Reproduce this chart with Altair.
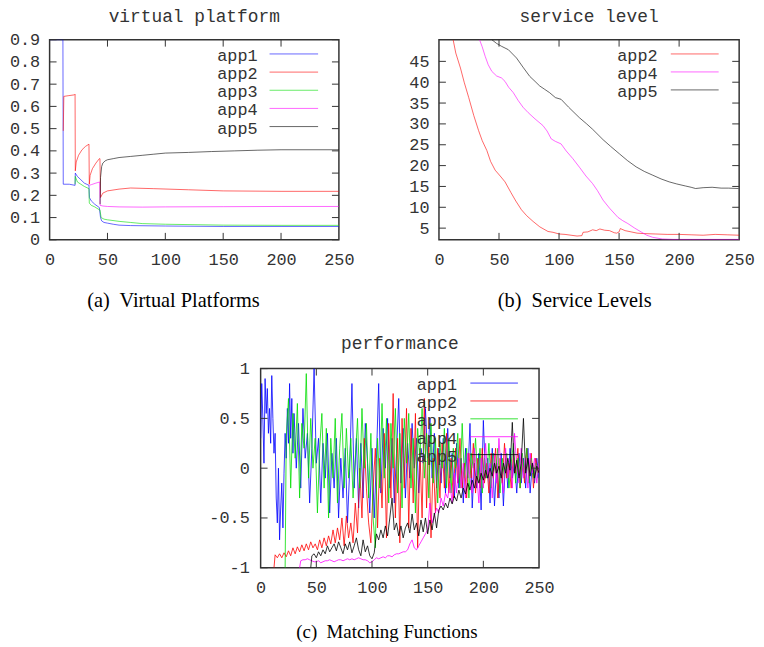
import altair as alt
import pandas as pd

MONO = "Liberation Mono"
SERIF = "Liberation Serif"
TXT = "#333333"

NAMES = ["app1", "app2", "app3", "app4", "app5"]
COLORS = ["#0000ff", "#ff0000", "#00dd00", "#ff00ff", "#000000"]

X_TICKS = [0, 50, 100, 150, 200, 250]
A_YTICKS = [0, 0.1, 0.2, 0.3, 0.4, 0.5, 0.6, 0.7, 0.8, 0.9]
B_YTICKS = [5, 10, 15, 20, 25, 30, 35, 40, 45]
C_YTICKS = [-1, -0.5, 0, 0.5, 1]

# ---------------- (a) virtual platform ----------------
A1_X = [0, 11.5, 11.8, 17, 22, 22.2, 24, 27, 30, 34, 34.4, 36, 39, 43, 44, 45, 47, 50, 55, 60, 70, 100, 150, 200, 250]
A1_Y = [0.9, 0.9, 0.25, 0.25, 0.245, 0.30, 0.285, 0.27, 0.255, 0.245, 0.19, 0.175, 0.16, 0.145, 0.10, 0.085, 0.078, 0.075, 0.07, 0.066, 0.064, 0.062, 0.06, 0.06, 0.06]
A2_X = [11.8, 12.3, 16, 21.5, 22, 22.2, 23, 25, 28, 31, 34, 34.3, 35, 37, 40, 43, 43.5, 44, 46, 50, 60, 70, 90, 120, 150, 200, 250]
A2_Y = [0.49, 0.645, 0.648, 0.652, 0.655, 0.31, 0.35, 0.38, 0.405, 0.42, 0.43, 0.25, 0.29, 0.32, 0.345, 0.365, 0.365, 0.19, 0.21, 0.22, 0.228, 0.233, 0.23, 0.225, 0.22, 0.218, 0.218]
A3_X = [22, 22.2, 24, 27, 30, 34, 34.3, 36, 39, 43, 43.5, 44.5, 47, 50, 60, 70, 80, 100, 150, 200, 250]
A3_Y = [0.25, 0.285, 0.26, 0.25, 0.24, 0.23, 0.165, 0.155, 0.148, 0.135, 0.135, 0.10, 0.093, 0.09, 0.083, 0.078, 0.073, 0.07, 0.066, 0.065, 0.065]
A4_X = [34.3, 36, 40, 43.3, 43.6, 46, 50, 60, 80, 100, 150, 200, 250]
A4_Y = [0.245, 0.248, 0.255, 0.26, 0.155, 0.152, 0.15, 0.148, 0.147, 0.148, 0.149, 0.15, 0.15]
A5_X = [43.6, 44, 45, 46, 48, 50, 55, 60, 70, 80, 90, 100, 120, 140, 160, 180, 200, 250]
A5_Y = [0.16, 0.28, 0.33, 0.345, 0.355, 0.36, 0.365, 0.37, 0.375, 0.38, 0.385, 0.39, 0.393, 0.397, 0.40, 0.403, 0.405, 0.405]

# ---------------- (b) service level ----------------
B2_X = [11.8, 14, 17.9, 21, 24.8, 29, 33, 36, 39.9, 43, 46.8, 51, 55, 60, 64, 68.7, 73, 78.4, 84, 90.8, 95, 100, 105, 110, 115, 119, 120, 124, 128, 131, 134, 138, 142, 146, 148, 150, 151, 155, 160, 165, 170, 180, 190, 200, 210, 220, 230, 240, 250]
B2_Y = [50.2, 47, 43.4, 40, 36.3, 32, 28.4, 26, 23.6, 21, 18.9, 17.5, 16.1, 13.5, 11.5, 9.4, 8.0, 6.6, 5.3, 4.2, 4.0, 3.6, 3.5, 3.3, 3.1, 3.2, 4.0, 4.1, 4.6, 4.4, 4.8, 4.5, 4.4, 3.9, 3.8, 4.1, 4.9, 4.4, 4.1, 3.8, 3.7, 3.6, 3.5, 3.5, 3.4, 3.3, 3.5, 3.4, 3.3]
B4_X = [33.8, 36, 38.5, 41, 44, 48, 52.2, 55, 58, 61.9, 66, 70, 74.3, 80, 86.6, 90, 93.5, 97, 101.7, 106, 111.4, 117, 122.4, 127.9, 132, 136.7, 142, 149, 153, 157.3, 163, 168.3, 173, 178, 186, 195, 210, 230, 250]
B4_Y = [50.2, 48.5, 46.2, 44.2, 42.6, 41.5, 41, 40.2, 38.8, 37.5, 35.6, 34, 32.7, 31.2, 29.6, 28.3, 26.4, 25.8, 25.2, 23.5, 21.7, 19.6, 17.5, 15.7, 14, 11.7, 9.8, 7.6, 6.8, 6.1, 5.0, 4.1, 3.3, 2.8, 2.4, 2.3, 2.3, 2.3, 2.3]
B5_X = [44, 48, 52.2, 57.8, 64.6, 70, 75.6, 80, 83.9, 88, 92.1, 97, 101.7, 108, 116.9, 123, 128, 136.7, 143, 150.4, 157, 164.2, 171, 178, 185, 191.7, 198, 205.4, 210, 213.7, 220, 227.5, 235, 241, 249.4]
B5_Y = [50.2, 49.3, 48.6, 47.8, 45.8, 43.6, 41.4, 40.2, 39.1, 38.3, 37.5, 36.3, 35.9, 34.0, 31.5, 30.0, 28.7, 26.2, 24.6, 22.8, 21.2, 19.7, 18.6, 17.7, 16.8, 16.1, 15.6, 15.1, 14.8, 14.5, 14.7, 14.8, 14.6, 14.6, 14.5]

# ---------------- (c) performance ----------------
C1_X = list(range(0, 30)) + list(range(30, 251, 2))
C1_Y = [0.3, 0.85, 0.5, 0.05, 0.9, 0.55, 0.8, 0.35, 0.6, 0.25,
        0.93, 0.5, 0.15, 0.35, -0.3, -0.55, 0.0, -0.72, -0.4, -0.15,
        -0.6, -0.05, 0.35, 0.1, 0.6, 0.25, 0.85, 0.3, 0.7, 0.15,
        0.55, 0.0, 0.45, -0.2, 0.6, 0.1, 0.35, -0.35, 0.2, 1.0,
        0.05, 0.3, -0.35, 0.25, -0.1, 0.35, -0.45, 0.15, -0.2, 0.3,
        -0.5, 0.1, -0.3, 0.2, -0.55, 0.0, 0.85, -0.2, 0.3, -0.4,
        0.25, -0.3, 0.45, 0.05, -0.45, 0.2, -0.5, 0.1, 0.85, -0.25,
        0.4, 0.0, 0.5, -0.2, 0.3, -0.35, 0.15, 0.7, -0.15, 0.4,
        -0.3, 0.25, -0.1, 0.45, 0.0, 0.3, -0.25, 0.2, 0.05, 0.6,
        0.1, 0.5, -0.1, 0.35, -0.2, 0.2, -0.15, 0.3, -0.25, 0.4,
        -0.1, 0.15, -0.3, 0.25, -0.2, 0.1, -0.35, 0.2, -0.1, 0.45,
        -0.4, 0.05, -0.2, 0.15, -0.42, 0.48, -0.1, 0.1, -0.35, 0.2,
        -0.38, 0.05, -0.3, 0.15, -0.38, 0.1, -0.2, 0.2, -0.1, 0.05,
        -0.25, 0.15, -0.15, 0.1, -0.2, 0.2, -0.25, 0.05, -0.15, 0.1,
        -0.1]
C2_X = [12] + list(range(13, 251, 2))
C2_Y = [-1.0,
        -0.87, -0.9, -0.86, -0.9, -0.85, -0.89, -0.83, -0.88, -0.8, -0.86,
        -0.79, -0.84, -0.77, -0.83, -0.76, -0.82, -0.74, -0.8, -0.76, -0.82,
        -0.72, -0.8, -0.7, -0.78, -0.68, -0.76, -0.62, -0.75, -0.6, -0.72,
        -0.5, -0.78, -0.48, -0.7, -0.55, -0.75, -0.35, -0.65, 0.0, -0.5,
        0.3, -0.2, -0.55, -0.75, -0.2, 0.2, -0.6, 0.1, -0.4, 0.35,
        -0.7, 0.45, -0.3, 0.75, -0.5, 0.3, -0.75, 0.5, -0.2, 0.6,
        -0.6, 0.4, -0.35, 0.55, -0.8, 0.2, -0.5, 0.7, -0.4, 0.3,
        -0.7, 0.1, -0.45, 0.2, -0.3, 0.25, -0.2, 0.35, -0.25, 0.1,
        -0.3, 0.2, -0.15, 0.3, -0.2, 0.05, -0.3, 0.15, -0.1, 0.25,
        -0.25, 0.1, -0.2, 0.2, -0.15, 0.05, -0.25, 0.15, -0.1, 0.2,
        -0.3, 0.1, -0.15, 0.25, -0.1, 0.05, -0.2, 0.15, -0.05, 0.2,
        -0.2, 0.1, -0.15, 0.2, -0.1, 0.15, -0.2, 0.1, -0.05]
C3_X = [22] + list(range(23, 251, 2))
C3_Y = [-1.0,
        0.3, 0.7, -0.2, 0.55, 0.1, 0.65, -0.3, 0.45, 0.2, 0.95,
        -0.1, 0.5, 0.0, 0.3, -0.45, 0.2, 0.55, -0.2, 0.4, -0.5,
        0.3, -0.1, 0.5, -0.35, 0.2, 0.55, -0.2, 0.4, -0.1, 0.3,
        -0.3, 0.1, 0.5, -0.2, 0.6, 0.0, 0.45, -0.3, 0.35, -0.5,
        -0.8, 0.3, -0.2, 0.65, -0.1, 0.5, -0.35, 0.45, 0.0, 0.6,
        -0.25, 0.35, -0.4, 0.5, 0.05, 0.55, -0.2, 0.3, -0.45, 0.4,
        0.1, 0.6, -0.1, 0.35, -0.3, 0.45, -0.15, 0.3, -0.35, 0.25,
        0.0, 0.4, -0.2, 0.3, -0.25, 0.2, 0.0, 0.35, -0.2, 0.45,
        -0.1, 0.2, -0.3, 0.15, 0.0, 0.3, -0.15, 0.2, -0.25, 0.1,
        -0.1, 0.25, -0.2, 0.15, -0.05, 0.2, -0.25, 0.1, -0.1, 0.15,
        -0.2, 0.05, 0.25, -0.15, 0.1, -0.2, 0.15, -0.05, 0.2, -0.15,
        0.1, -0.1, 0.05, -0.1]
C4_X = [35] + list(range(36, 251, 2))
C4_Y = [-1.0,
        -0.93, -0.92, -0.92, -0.91, -0.92, -0.93, -0.94, -0.94, -0.93, -0.95,
        -0.94, -0.93, -0.93, -0.92, -0.93, -0.94, -0.93, -0.92, -0.92, -0.93,
        -0.92, -0.91, -0.92, -0.91, -0.92, -0.91, -0.9, -0.91, -0.92, -0.92,
        -0.93, -0.95, -0.94, -0.92, -0.9, -0.91, -0.9, -0.89, -0.9, -0.88,
        -0.88, -0.89, -0.87, -0.86, -0.86, -0.85, -0.84, -0.84, -0.82, -0.76,
        -0.72, -0.8, -0.82, -0.78, -0.74, -0.7, -0.66, -0.62, -0.35, -0.55,
        -0.48, -0.4, -0.45, -0.3, -0.38, -0.25, -0.3, -0.15, -0.35, -0.05,
        -0.25, 0.1, -0.2, 0.05, -0.3, 0.15, -0.1, -0.25, 0.2, -0.05,
        -0.35, 0.1, -0.2, 0.25, -0.1, 0.05, -0.3, 0.15, -0.15, 0.3,
        -0.05, -0.25, 0.2, -0.1, 0.1, -0.2, 0.35, 0.0, -0.15, 0.2,
        -0.1, 0.1, -0.2, 0.15, -0.05, 0.1, -0.15, 0.05]
C5_X = [45] + list(range(46, 251, 2))
C5_Y = [-1.0,
        -0.88, -0.86, -0.9, -0.84, -0.88, -0.82, -0.86, -0.78, -0.84, -0.8,
        -0.76, -0.83, -0.74, -0.8, -0.86, -0.76, -0.82, -0.74, -0.85, -0.78,
        -0.7, -0.82, -0.88, -0.72, -0.84, -0.78, -0.88, -0.91, -0.85, -0.66,
        -0.72, -0.62, -0.7, -0.58, -0.68, -0.5, -0.3, -0.62, -0.55, -0.68,
        -0.58, -0.7, -0.6, -0.55, -0.65, -0.46, -0.62, -0.55, -0.68, -0.52,
        -0.64, -0.5, -0.66, -0.52, -0.62, -0.45, -0.6, -0.42, -0.38, -0.42,
        -0.35, -0.4, -0.3, -0.36, -0.28, -0.33, -0.22, -0.3, -0.2, -0.26,
        -0.15, -0.22, -0.12, -0.2, -0.08, -0.15, -0.05, -0.12, -0.02, -0.1,
        0.0, -0.08, 0.05, -0.05, 0.02, -0.1, 0.05, -0.05, 0.1, -0.02,
        0.46, -0.05, 0.08, -0.1, 0.05, 0.5, -0.05, 0.1, -0.08, 0.05,
        -0.1, 0.02, -0.05]


def build_df(series):
    rows = []
    for name, xs, ys in series:
        for i, (x, y) in enumerate(zip(xs, ys)):
            rows.append({"name": name, "x": x, "y": y, "i": i})
    return pd.DataFrame(rows)


def panel(series, ydom, yticks, title, title_offset, caption, cap_x, cap_y, cap_size,
          W, H, ylab_pad, leg_rng, leg_tx, leg_lx, line_opacity, ylabel_expr=None):
    df = build_df(series)
    leg_names = [s[0] for s in series]
    xs = alt.Scale(domain=[0, 250], nice=False, zero=False)
    ys = alt.Scale(domain=ydom, nice=False, zero=False)
    cs = alt.Scale(domain=NAMES, range=COLORS)

    xaxis = alt.Axis(
        values=X_TICKS, title=caption, titleFont=SERIF, titleFontSize=cap_size,
        titleFontWeight="normal", titleColor="black", titleX=cap_x, titleY=cap_y,
        titleAlign="center", titleBaseline="alphabetic",
        labelFont=MONO, labelFontSize=17, labelColor=TXT, labelPadding=25,
        labelBaseline="alphabetic", ticks=False, tickSize=0, domain=False,
        grid=False, labelFlush=False, labelOverlap=False)

    yaxis_kw = dict(values=yticks, title=None, labelFont=MONO, labelFontSize=17,
                    labelColor=TXT, labelPadding=ylab_pad, ticks=False, tickSize=0,
                    domain=False, grid=False, labelFlush=False, labelOverlap=False)
    if ylabel_expr:
        yaxis_kw["labelExpr"] = ylabel_expr
    else:
        yaxis_kw["format"] = "~g"

    lines = alt.Chart(df).mark_line(strokeWidth=1, opacity=line_opacity, clip=True).encode(
        x=alt.X("x:Q", scale=xs, axis=xaxis),
        y=alt.Y("y:Q", scale=ys, axis=alt.Axis(**yaxis_kw)),
        color=alt.Color("name:N", scale=cs, legend=None),
        order=alt.Order("i:Q"),
    )

    tick_kw = dict(color="#333333", strokeWidth=1)
    tx = pd.DataFrame({"t": X_TICKS[1:-1]})
    ty = pd.DataFrame({"t": yticks})
    xb = alt.Chart(tx).mark_rule(**tick_kw).encode(
        x=alt.X("t:Q", scale=xs, axis=xaxis), y=alt.value(H), y2=alt.value(H - 7))
    xt = alt.Chart(tx).mark_rule(**tick_kw).encode(
        x=alt.X("t:Q", scale=xs, axis=xaxis), y=alt.value(0), y2=alt.value(7))
    yl = alt.Chart(ty).mark_rule(**tick_kw).encode(
        y=alt.Y("t:Q", scale=ys, axis=None), x=alt.value(0), x2=alt.value(7))
    yr = alt.Chart(ty).mark_rule(**tick_kw).encode(
        y=alt.Y("t:Q", scale=ys, axis=None), x=alt.value(W - 7), x2=alt.value(W))

    ldf = pd.DataFrame({"name": leg_names})
    lys = alt.Scale(type="point", domain=leg_names, range=leg_rng, padding=0)
    lr = alt.Chart(ldf).mark_rule(strokeWidth=1, opacity=line_opacity).encode(
        x=alt.value(leg_lx[0]), x2=alt.value(leg_lx[1]),
        y=alt.Y("name:N", scale=lys, axis=None),
        color=alt.Color("name:N", scale=cs, legend=None))
    lt = alt.Chart(ldf).mark_text(align="right", baseline="middle", font=MONO,
                                  fontSize=17, color=TXT, dy=2).encode(
        x=alt.value(leg_tx), y=alt.Y("name:N", scale=lys, axis=None), text="name:N")

    return alt.layer(lines, xb, xt, yl, yr, lr, lt).resolve_scale(
        y="independent").properties(
        width=W, height=H,
        title=alt.TitleParams(title, font=MONO, fontSize=18, fontWeight="normal",
                              color=TXT, anchor="middle", frame="group",
                              offset=title_offset))


chart_a = panel(
    [("app1", A1_X, A1_Y), ("app2", A2_X, A2_Y), ("app3", A3_X, A3_Y),
     ("app4", A4_X, A4_Y), ("app5", A5_X, A5_Y)],
    [0, 0.9], A_YTICKS, "virtual platform", 5, "(a)\u00a0 Virtual Platforms",
    124.5, 67.5, 20.5, 292, 202, 10, [14.4, 87.7], 210, (222, 271), 0.6)

chart_b = panel(
    [("app2", B2_X, B2_Y), ("app4", B4_X, B4_Y), ("app5", B5_X, B5_Y)],
    [2.2, 50.2], B_YTICKS, "service level", 13.5, "(b)\u00a0 Service Levels",
    136.5, 67.5, 20.5, 303, 202, 10, [14.4, 50.7], 220.7, (234, 282.3), 0.6)

chart_c = panel(
    [("app1", C1_X, C1_Y), ("app2", C2_X, C2_Y), ("app3", C3_X, C3_Y),
     ("app4", C4_X, C4_Y), ("app5", C5_X, C5_Y)],
    [-1, 1], C_YTICKS, "performance", 7, "(c)\u00a0 Matching Functions",
    127, 70, 19, 281, 201, 11.5, [14.6, 86.8], 198.3, (211.7, 259.7), 0.8,
    ylabel_expr="replace(format(datum.value, '~g'), '\u2212', '-')")

spacer = alt.Chart(pd.DataFrame({"v": [0]})).mark_point(opacity=0).encode(
    x=alt.value(0), y=alt.value(0)).properties(
    width=213, height=201, view=alt.ViewBackground(stroke="transparent"))

top_row = alt.hconcat(chart_a, chart_b, spacing=101, bounds="flush")
bottom_row = alt.hconcat(spacer, chart_c, spacing=0, bounds="flush")

chart = alt.vconcat(top_row, bottom_row, spacing=22).properties(
    padding={"left": 0, "top": -4, "right": 0, "bottom": 0},
    background="white").configure_view(stroke="#333333", strokeWidth=1.5)

chart.save("out.html", embed_options={"renderer": "svg", "actions": False})
